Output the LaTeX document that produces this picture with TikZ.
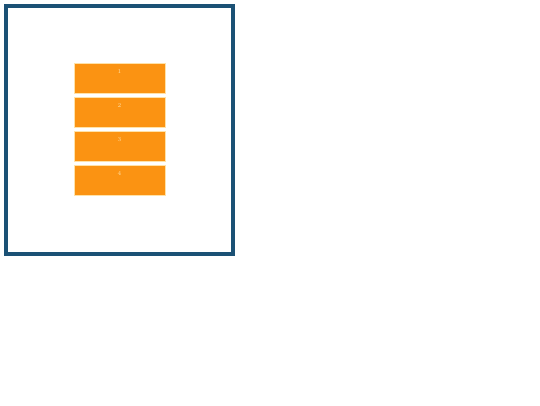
\documentclass[tikz,border=0pt]{standalone}
\usepackage{tikz}
\definecolor{frameblue}{HTML}{1B5175}
\definecolor{slotorange}{HTML}{FB9312}
\definecolor{slotedge}{HTML}{FFE2A8}
\tikzset{
  slot/.style={draw=slotedge,fill=slotorange,line width=1bp,minimum width=91bp,minimum height=30.5bp,inner sep=0pt},
  slotlabel/.style={anchor=north,inner sep=0pt,text=slotedge,font=\fontsize{6}{7}\selectfont}
}
\begin{document}
\begin{tikzpicture}[x=1bp,y=-1bp]
    \useasboundingbox (0,0) rectangle (540,405);
            \draw[frameblue,line width=4bp] (5.5,5.5) rectangle (232.5,254);
            \foreach \i in {1,...,4}
            {
                \node[slot] (s\i) at (119.5,{78.5+34*(\i-1)}) {};
                \node[slotlabel] (l\i) at ([yshift=-6.5bp]s\i.north) {\i};
            }
        \end{tikzpicture}
\end{document}
